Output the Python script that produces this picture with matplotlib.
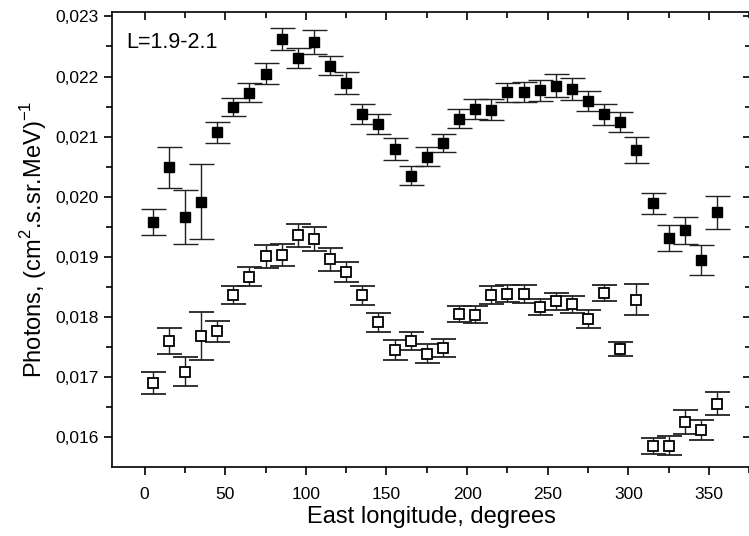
import numpy as np
import matplotlib
matplotlib.use('Agg')
import matplotlib.pyplot as plt
from matplotlib.ticker import MultipleLocator, FuncFormatter

plt.rcParams['font.family'] = ['Liberation Sans', 'DejaVu Sans']
plt.rcParams['mathtext.fontset'] = 'custom'
plt.rcParams['mathtext.rm'] = 'Liberation Sans'

# longitudes (bin centres)
lon = [5, 15, 25, 35, 45, 55, 65, 75, 85, 95, 105, 115, 125, 135, 145, 155, 165, 175,
       185, 195, 205, 215, 225, 235, 245, 255, 265, 275, 285, 295, 305, 315, 325, 335, 345, 355]

# filled squares
flux_a = [0.01958, 0.02049, 0.01967, 0.01992, 0.02107, 0.02149, 0.02173, 0.02205, 0.02263,
          0.02231, 0.02258, 0.02218, 0.02189, 0.02138, 0.02121, 0.02080, 0.02035, 0.02067,
          0.02090, 0.02130, 0.02146, 0.02145, 0.02174, 0.02174, 0.02177, 0.02185, 0.02179,
          0.02159, 0.02137, 0.02124, 0.02078, 0.01989, 0.01931, 0.01944, 0.01895, 0.01974]
err_a = [0.00022, 0.00034, 0.00045, 0.00063, 0.00018, 0.00015, 0.00016, 0.00017, 0.00018,
         0.00017, 0.00020, 0.00016, 0.00018, 0.00017, 0.00017, 0.00018, 0.00016, 0.00016,
         0.00015, 0.00016, 0.00016, 0.00018, 0.00016, 0.00017, 0.00018, 0.00019, 0.00018,
         0.00017, 0.00017, 0.00017, 0.00022, 0.00018, 0.00022, 0.00022, 0.00025, 0.00027]

# open squares
flux_b = [0.01690, 0.01760, 0.01709, 0.01769, 0.01776, 0.01837, 0.01867, 0.01901, 0.01903,
          0.01936, 0.01930, 0.01896, 0.01875, 0.01836, 0.01791, 0.01745, 0.01760, 0.01739,
          0.01749, 0.01805, 0.01804, 0.01836, 0.01839, 0.01839, 0.01817, 0.01826, 0.01821,
          0.01797, 0.01840, 0.01747, 0.01829, 0.01585, 0.01586, 0.01626, 0.01612, 0.01656]
err_b = [0.00018, 0.00022, 0.00024, 0.00040, 0.00018, 0.00015, 0.00016, 0.00019, 0.00018,
         0.00019, 0.00020, 0.00019, 0.00017, 0.00016, 0.00016, 0.00016, 0.00015, 0.00016,
         0.00015, 0.00014, 0.00014, 0.00015, 0.00014, 0.00015, 0.00013, 0.00014, 0.00014,
         0.00015, 0.00013, 0.00012, 0.00026, 0.00013, 0.00016, 0.00020, 0.00017, 0.00019]

fig = plt.figure(figsize=(7.49, 5.36), dpi=100)
ax = fig.add_axes([0.1499, 0.1293, 0.8528, 0.849])

ax.errorbar(lon, flux_a, yerr=err_a, fmt='s', color='black', ms=7.5,
            ecolor='#222222', elinewidth=1, capsize=9, capthick=1)
ax.errorbar(lon, flux_b, yerr=err_b, fmt='s', mfc='white', mec='black', mew=1.3, ms=7,
            ecolor='#222222', elinewidth=1, capsize=9, capthick=1)

ax.set_xlim(-20, 376)
ax.set_ylim(0.01551, 0.02308)

ax.xaxis.set_major_locator(MultipleLocator(50))
ax.xaxis.set_minor_locator(MultipleLocator(25))
ax.yaxis.set_major_locator(MultipleLocator(0.001))
ax.yaxis.set_minor_locator(MultipleLocator(0.0005))
ax.yaxis.set_major_formatter(FuncFormatter(lambda v, p: f'{v:.3f}'.replace('.', ',')))

ax.tick_params(which='both', labelsize=12.5, width=1.2)
ax.tick_params(which='major', length=6)
ax.tick_params(which='minor', length=4)
ax.tick_params(axis='x', which='both', top=True, direction='out', pad=8.5)
ax.tick_params(axis='y', which='both', right=True, direction='out')
# top and right ticks point inwards
for t in ax.xaxis.get_major_ticks() + ax.xaxis.get_minor_ticks():
    t.tick2line.set_marker(3)
for t in ax.yaxis.get_major_ticks() + ax.yaxis.get_minor_ticks():
    t.tick2line.set_marker(0)
for s in ax.spines.values():
    s.set_linewidth(1.2)

ax.set_xlabel('East longitude, degrees', fontsize=17, labelpad=3)
ax.set_ylabel(r'Photons, (cm$^2$.s.sr.MeV)$^{-1}$', fontsize=17, labelpad=5)
ax.text(0.022, 0.932, 'L=1.9-2.1', transform=ax.transAxes, fontsize=15.5, va='center')

fig.savefig('out.png', dpi=100)
